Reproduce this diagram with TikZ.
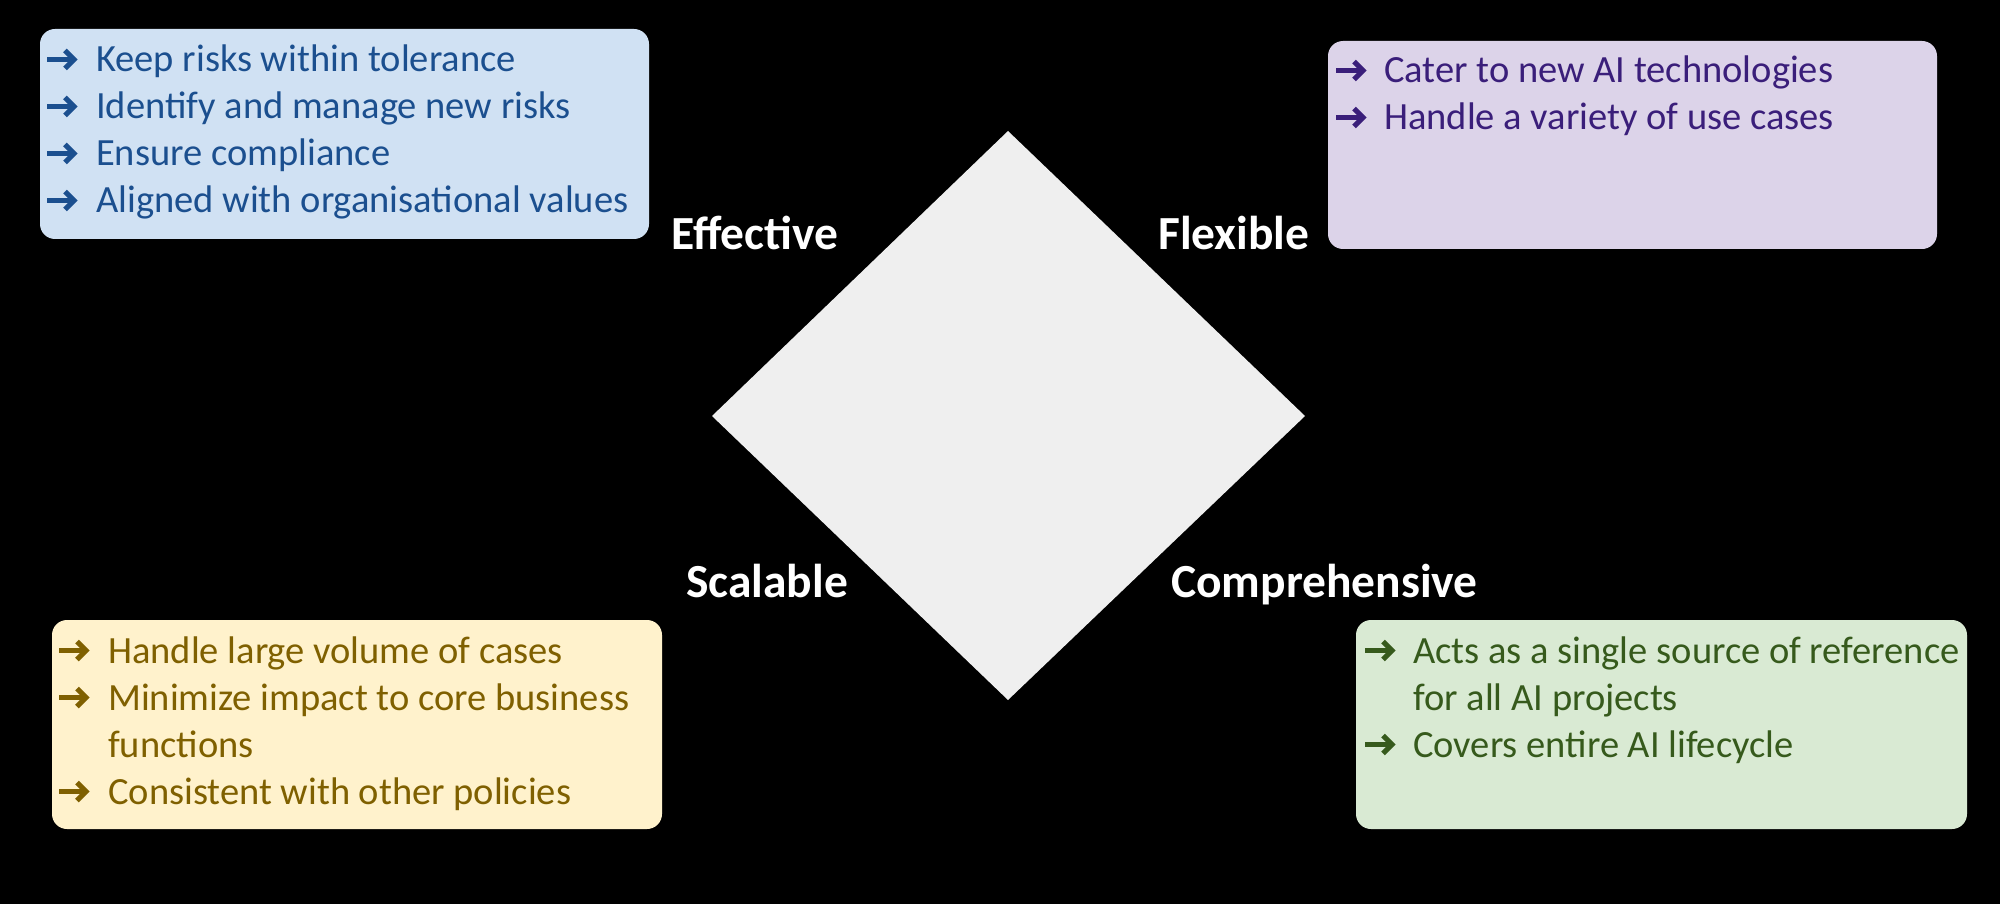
\documentclass[tikz,border=0pt]{standalone}
\usepackage{fontspec}
\setmainfont{Carlito}
\definecolor{bluefill}{HTML}{D0E1F3}
\definecolor{bluetext}{HTML}{1B4F8F}
\definecolor{purpfill}{HTML}{DCD3E9}
\definecolor{purptext}{HTML}{3A1E7A}
\definecolor{yelfill}{HTML}{FFF2CC}
\definecolor{yeltext}{HTML}{7F6000}
\definecolor{grnfill}{HTML}{D9EAD3}
\definecolor{grntext}{HTML}{365A1C}
\definecolor{diafill}{HTML}{EFEFEF}
\begin{document}
\begin{tikzpicture}[x=1pt,y=-1pt,
  panel/.style={rounded corners=15pt},
  item/.style={anchor=base west,inner sep=0pt,font=\fontsize{38.5}{47}\selectfont},
  lbl/.style={anchor=base west,inner sep=0pt,text=white,font=\fontsize{47.5}{56}\selectfont\bfseries},
  harrow/.pic={
    \draw[line width=5pt,line cap=butt] (1,-12.5) -- (27,-12.5);
    \draw[line width=5pt,line cap=butt,miter limit=10] (19,-3.5) -- (28,-12.5) -- (19,-21.5);
  }]
\fill[black] (0,0) rectangle (2000,904);
\useasboundingbox (0,0) rectangle (2000,904);
% diamond
\fill[diafill] (1008,131) -- (1305,416) -- (1008,700) -- (712,416) -- cycle;
% panels
\fill[panel,bluefill] (40,29) rectangle (649,239);
\fill[panel,purpfill] (1328,41) rectangle (1937,249);
\fill[panel,yelfill] (52,620) rectangle (662,829);
\fill[panel,grnfill] (1356,620) rectangle (1967,829);
% blue
\begin{scope}[text=bluetext,draw=bluetext]
\pic at (46,72) {harrow};
\node[item] (b1) at (96,72) {Keep risks within tolerance};
\pic at (46,119) {harrow};
\node[item] (b2) at (96,119) {Identify and manage new risks};
\pic at (46,166) {harrow};
\node[item] (b3) at (96,166) {Ensure compliance};
\pic at (46,213) {harrow};
\node[item] (b4) at (96,213) {Aligned with organisational values};
\end{scope}
% purple
\begin{scope}[text=purptext,draw=purptext]
\pic at (1335,83) {harrow};
\node[item] (p1) at (1384,83) {Cater to new AI technologies};
\pic at (1335,130) {harrow};
\node[item] (p2) at (1384,130) {Handle a variety of use cases};
\end{scope}
% yellow
\begin{scope}[text=yeltext,draw=yeltext]
\pic at (58,663) {harrow};
\node[item] (y1) at (108,663) {Handle large volume of cases};
\pic at (58,710) {harrow};
\node[item] (y2) at (108,710) {Minimize impact to core business};
\node[item] (y3) at (108,757) {functions};
\pic at (58,804) {harrow};
\node[item] (y4) at (108,804) {Consistent with other policies};
\end{scope}
% green
\begin{scope}[text=grntext,draw=grntext]
\pic at (1364,663) {harrow};
\node[item] (g1) at (1413,663) {Acts as a single source of reference};
\node[item] (g2) at (1413,710) {for all AI projects};
\pic at (1364,757) {harrow};
\node[item] (g3) at (1413,757) {Covers entire AI lifecycle};
\end{scope}
% labels
\node[lbl] (eff) at (671,250) {Effective};
\node[lbl] (flex) at (1158,250) {Flexible};
\node[lbl] (scal) at (686,597) {Scalable};
\node[lbl] (comp) at (1171,597) {Comprehensive};
\end{tikzpicture}
\end{document}
